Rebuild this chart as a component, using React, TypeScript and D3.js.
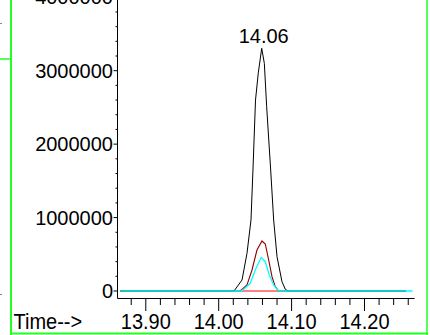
import React from "react";
import * as d3 from "d3";

// ---- data ----
const blackTimes = [13.865, 14.021, 14.032, 14.0388, 14.0443, 14.047, 14.0505, 14.0543, 14.059, 14.0626, 14.0658, 14.0713, 14.0754, 14.08, 14.0868, 14.0914, 14.095, 14.257];
const blackValues = [0, 0, 150000, 513000, 967000, 1648000, 2600000, 2970000, 3305000, 3100000, 2510000, 1648000, 967000, 467000, 127000, 23000, 0, 0];

const darkRedTimes = [13.865, 14.029, 14.032, 14.0388, 14.0457, 14.0525, 14.0594, 14.0639, 14.0686, 14.0731, 14.0776, 14.0823, 14.257];
const darkRedValues = [0, 0, 23000, 82000, 286000, 558000, 681000, 640000, 422000, 195000, 59000, 0, 0];

const cyanTimes = [13.865, 14.031, 14.0343, 14.0433, 14.0502, 14.0584, 14.0639, 14.0694, 14.0754, 14.08, 14.083, 14.266];
const cyanValues = [0, 0, 23000, 105000, 286000, 459000, 399000, 218000, 82000, 23000, 0, 0];

const redTimes = [13.865, 14.257];
const redValues = [0, 0];

const yTickValues = [0, 1000000, 2000000, 3000000, 4000000];
const xTickValues = [13.9, 14.0, 14.1, 14.2];
const peakTime = 14.059;
const peakValue = 3305000;
const peakLabel = "14.06";
const xAxisTitle = "Time-->";

export default function App() {
  const x = d3.scaleLinear().domain([13.9, 14.2]).range([145.8, 364.5]);
  const y = d3.scaleLinear().domain([0, 3000000]).range([291, 70.7]);

  const mk = (ts: number[], vs: number[]) =>
    d3
      .line<number>()
      .x((_, i) => x(ts[i]))
      .y((v) => y(v))
      .curve(d3.curveLinear)(vs) || "";

  const yMinor = d3.range(0, 4000001, 200000).filter((v) => v % 1000000 !== 0);
  const xMinor = d3.range(13.88, 14.265, 0.02).filter((t) => Math.abs(Math.round(t * 10) - t * 10) > 0.01 && x(t) > 118);

  const font = "'Liberation Sans', Arial, sans-serif";
  const green = "#22ff22";
  const baseY = 328.5;

  return (
    <svg width={430} height={335} style={{ position: "absolute", left: 0, top: 0, background: "#fff" }} fontFamily={font}>
      {/* frame */}
      <line x1={11} y1={0} x2={11} y2={335} stroke={green} strokeWidth={2} />
      <line x1={427} y1={0} x2={427} y2={335} stroke={green} strokeWidth={1.5} />
      <line x1={10} y1={333.5} x2={428} y2={333.5} stroke={green} strokeWidth={2} />
      <line x1={0} y1={59} x2={11} y2={59} stroke={green} strokeWidth={1.5} />
      <line x1={0} y1={23.5} x2={2} y2={23.5} stroke="#888" strokeWidth={1} />
      <line x1={0} y1={294.5} x2={2} y2={294.5} stroke="#888" strokeWidth={1} />

      {/* y axis */}
      <line x1={117.5} y1={0} x2={117.5} y2={298.5} stroke="#000" strokeWidth={1} />
      {yMinor.map((v) => (
        <line key={"ym" + v} x1={115.5} x2={117.5} y1={y(v)} y2={y(v)} stroke="#000" strokeWidth={1} />
      ))}
      {yTickValues.map((v) => (
        <g key={"yt" + v}>
          <line x1={113.5} x2={117.5} y1={y(v)} y2={y(v)} stroke="#000" strokeWidth={1} />
          <text x={113} y={y(v) + 7} textAnchor="end" fontSize={20} fill="#000">
            {d3.format("d")(v)}
          </text>
        </g>
      ))}

      {/* x axis */}
      <line x1={117.5} y1={298.5} x2={414.5} y2={298.5} stroke="#000" strokeWidth={1} />
      {xMinor.map((t) => (
        <line key={"xm" + t} x1={x(t)} x2={x(t)} y1={298.5} y2={305} stroke="#000" strokeWidth={1} />
      ))}
      <g transform={`translate(0,${baseY}) scale(1,1.1)`}>
        {xTickValues.map((t) => (
          <text key={"xl" + t} x={x(t)} y={0} textAnchor="middle" fontSize={20} fill="#000">
            {d3.format(".2f")(t)}
          </text>
        ))}
        <text x={13.5} y={0} fontSize={20} fill="#000">
          {xAxisTitle}
        </text>
      </g>
      {xTickValues.map((t) => (
        <line key={"xt" + t} x1={x(t)} x2={x(t)} y1={298.5} y2={311} stroke="#000" strokeWidth={1} />
      ))}

      {/* traces */}
      <path d={mk(redTimes, redValues)} fill="none" stroke="#ff0000" strokeWidth={1} />
      <path d={mk(darkRedTimes, darkRedValues)} fill="none" stroke="#8b0000" strokeWidth={1.1} />
      <path d={mk(blackTimes, blackValues)} fill="none" stroke="#000" strokeWidth={1} />
      <path d={mk(cyanTimes, cyanValues)} fill="none" stroke="#00ffff" strokeWidth={1.3} />

      {/* peak label */}
      <text x={x(peakTime) + 2} y={y(peakValue) - 5} textAnchor="middle" fontSize={20} fill="#000">
        {peakLabel}
      </text>
    </svg>
  );
}
